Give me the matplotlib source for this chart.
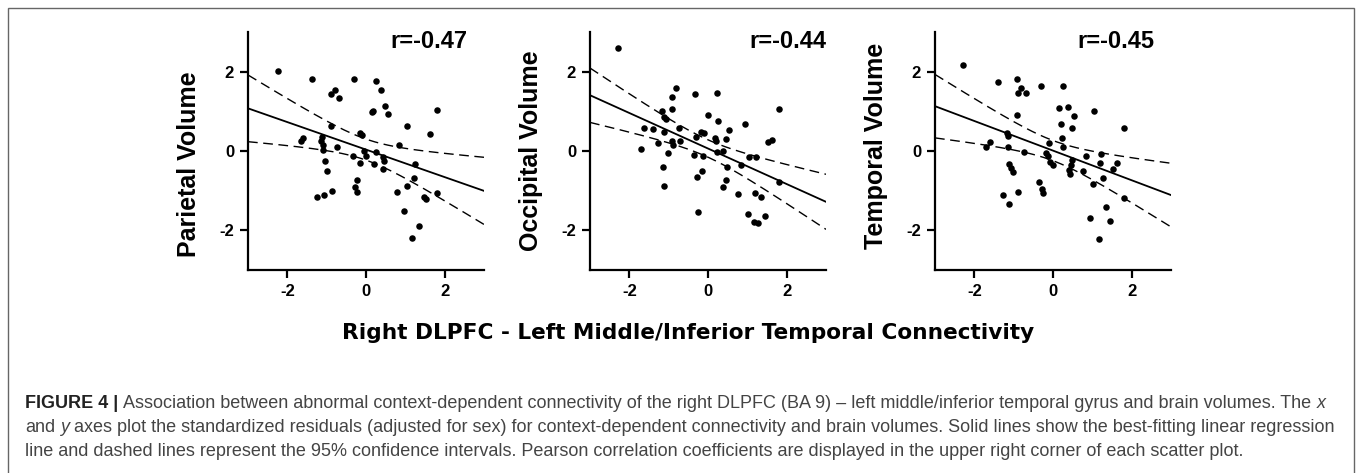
import numpy as np
import matplotlib
matplotlib.use("Agg")
import matplotlib.pyplot as plt
from matplotlib.patches import Rectangle

plt.rcParams["axes.unicode_minus"] = False

# ---- data (standardized residuals) ----
parietal_x = [-2.25, -1.37, -0.30, 0.26, 0.38, -0.78, -0.88, -0.68, 0.49, 0.19,
              0.15, 0.56, 1.81, 1.05, -0.88, 1.63, -0.14, -0.10, -1.60, -1.66,
              -1.11, -1.14, -1.10, -1.10, -0.73, 0.85, -0.06, 0.00, -0.33, 0.26,
              -0.16, 0.20, 0.44, 0.47, 0.42, -1.05, -0.99, 1.25, 1.22, 1.03,
              0.78, 1.81, -0.24, -0.27, -0.23, -0.86, -1.25, -1.08, 1.48, 1.52,
              0.96, 1.35, 1.18]
parietal_y = [2.02, 1.82, 1.82, 1.76, 1.55, 1.54, 1.44, 1.34, 1.13, 1.02,
              0.98, 0.94, 1.04, 0.62, 0.62, 0.43, 0.45, 0.40, 0.33, 0.24,
              0.35, 0.26, 0.16, 0.03, 0.09, 0.14, 0.01, -0.12, -0.12, -0.03,
              -0.30, -0.33, -0.16, -0.24, -0.46, -0.26, -0.50, -0.33, -0.67, -0.88,
              -1.04, -1.07, -0.73, -0.92, -1.03, -1.00, -1.16, -1.12, -1.17, -1.22,
              -1.52, -1.88, -2.19]

occipital_x = [-2.28, -0.81, -0.32, 0.24, -0.91, -0.92, -1.16, -1.12, -1.06, 1.80,
               0.00, 0.26, 0.94, -1.62, -1.40, -0.75, -1.12, 0.54, -0.19, -0.09,
               -0.30, 0.17, 0.47, 0.20, -1.28, -0.91, -0.89, -0.72, 1.53, 1.62,
               -1.70, -1.02, -0.36, -0.13, 0.24, 0.38, 1.04, 1.21, 0.85, 0.49,
               -1.15, -0.16, -0.27, 0.45, 1.81, 0.37, -1.12, 0.77, 1.19, 1.34,
               1.01, 1.45, 1.17, 1.27, -0.26]
occipital_y = [2.59, 1.59, 1.44, 1.46, 1.36, 1.06, 1.00, 0.85, 0.81, 1.07,
               0.90, 0.75, 0.68, 0.59, 0.56, 0.59, 0.49, 0.53, 0.47, 0.45,
               0.36, 0.32, 0.30, 0.24, 0.21, 0.25, 0.15, 0.25, 0.22, 0.27,
               0.04, -0.06, -0.10, -0.12, -0.02, 0.00, -0.14, -0.14, -0.36, -0.40,
               -0.40, -0.51, -0.65, -0.74, -0.78, -0.92, -0.89, -1.08, -1.05, -1.16,
               -1.58, -1.64, -1.78, -1.81, -1.54]

temporal_x = [-2.28, -1.39, -0.91, -0.81, -0.88, -0.68, -0.31, 0.26, 0.15, 0.37,
              0.54, 1.05, 1.80, -0.91, 0.20, 0.48, -1.16, -1.15, 0.24, -1.59,
              -1.70, -1.15, -0.11, 0.26, -0.75, -0.17, -0.13, 0.83, 1.22, -0.08,
              0.01, 0.48, 0.45, 0.41, 0.43, 0.77, 1.19, 1.62, 1.52, -1.13,
              -1.08, -1.01, 1.28, 1.01, -0.36, -0.28, -0.26, -0.89, -1.28, -1.12,
              1.80, 1.34, 0.94, 1.45, 1.17]
temporal_y = [2.16, 1.74, 1.81, 1.59, 1.47, 1.47, 1.65, 1.65, 1.08, 1.10,
              0.87, 1.00, 0.59, 0.90, 0.68, 0.59, 0.45, 0.39, 0.34, 0.22,
              0.11, 0.10, 0.19, 0.11, -0.02, -0.06, -0.12, -0.12, -0.08, -0.27,
              -0.36, -0.23, -0.36, -0.48, -0.57, -0.50, -0.31, -0.31, -0.46, -0.33,
              -0.44, -0.54, -0.69, -0.84, -0.78, -0.95, -1.07, -1.03, -1.10, -1.33,
              -1.19, -1.40, -1.69, -1.77, -2.22]

panel_labels = ["Parietal Volume", "Occipital Volume", "Temporal Volume"]
r_labels = ["r=-0.47", "r=-0.44", "r=-0.45"]
ticks = [-2, 0, 2]
t_crit = 2.01  # two-sided 95%, df ~ 51-53

panels = [(parietal_x, parietal_y), (occipital_x, occipital_y), (temporal_x, temporal_y)]

W, H = 1357, 473
fig = plt.figure(figsize=(W / 100, H / 100), dpi=100)

ax_left = [248, 590, 935]
r_right = [0.928, 1.0, 0.928]
ylab_pos = [0.445, 0.5, 0.52]

for i, (xs, ys) in enumerate(panels):
    ax = fig.add_axes([ax_left[i] / W, 1 - 270 / H, 236 / W, 238 / H])
    xs = np.array(xs)
    ys = np.array(ys)
    ax.scatter(xs, ys, s=22, color="black", zorder=3, linewidths=0)

    # least squares fit + 95% confidence band for the mean
    slope, icpt = np.polyfit(xs, ys, 1)
    n = len(xs)
    resid = ys - (slope * xs + icpt)
    s_err = np.sqrt(np.sum(resid ** 2) / (n - 2))
    sxx = np.sum((xs - xs.mean()) ** 2)
    xx = np.linspace(-3, 3, 200)
    yy = slope * xx + icpt
    half = t_crit * s_err * np.sqrt(1.0 / n + (xx - xs.mean()) ** 2 / sxx)
    ax.plot(xx, yy, color="black", lw=1.3)
    ax.plot(xx, yy + half, color="black", lw=1.0, ls=(0, (7, 4)))
    ax.plot(xx, yy - half, color="black", lw=1.0, ls=(0, (7, 4)))

    ax.set_xlim(-3, 3)
    ax.set_ylim(-3, 3)
    ax.set_xticks(ticks)
    ax.set_yticks(ticks)
    for sp in ["top", "right"]:
        ax.spines[sp].set_visible(False)
    for sp in ["left", "bottom"]:
        ax.spines[sp].set_linewidth(1.6)
    ax.tick_params(width=1.6, length=6, pad=4, direction="out")
    for lab in ax.get_xticklabels() + ax.get_yticklabels():
        lab.set_fontfamily("Liberation Sans")
        lab.set_fontweight("bold")
        lab.set_fontsize(12)
    ax.set_ylabel(panel_labels[i], fontfamily="Liberation Sans", fontweight="bold",
                  fontsize=18)
    ax.yaxis.set_label_coords(-0.2, ylab_pos[i])
    ax.text(r_right[i], 0.958, r_labels[i], transform=ax.transAxes, ha="right", va="center",
            fontfamily="Liberation Sans", fontweight="bold", fontsize=17)

fig.text(688 / W, 1 - 333 / H, "Right DLPFC - Left Middle/Inferior Temporal Connectivity",
         ha="center", va="center", fontfamily="DejaVu Sans", fontweight="bold", fontsize=15.6)

# caption box border
fig.add_artist(Rectangle((8 / W, -0.05), (1354 - 8) / W, 1 - 8 / H + 0.05,
                         transform=fig.transFigure, fill=False, ec="#666666", lw=1.0))

cap_fs = 13.0
reg = dict(fontfamily="Liberation Sans", fontsize=cap_fs, color="#444444")
bold = dict(fontfamily="Liberation Sans", fontsize=cap_fs, color="#222222", fontweight="bold")
ital = dict(fontfamily="Liberation Sans", fontsize=cap_fs, color="#444444", style="italic")

caption_lines = [
    [("FIGURE 4 |", bold),
     ("Association between abnormal context-dependent connectivity of the right DLPFC (BA 9) \u2013 "
      "left middle/inferior temporal gyrus and brain volumes. The", reg),
     ("x", ital)],
    [("and", reg), ("y", ital),
     ("axes plot the standardized residuals (adjusted for sex) for context-dependent connectivity "
      "and brain volumes. Solid lines show the best-fitting linear regression", reg)],
    [("line and dashed lines represent the 95% confidence intervals. Pearson correlation "
      "coefficients are displayed in the upper right corner of each scatter plot.", reg)],
]
caption_y = [403, 427, 451]

renderer = fig.canvas.get_renderer()


def text_width(s, kw):
    t = fig.text(0, 0, s, **kw)
    w = t.get_window_extent(renderer).width
    t.remove()
    return w


space_w = text_width("a a", reg) - text_width("aa", reg)

for line, yl in zip(caption_lines, caption_y):
    x = 25.0
    for s, kw in line:
        t = fig.text(x / W, 1 - yl / H, s, ha="left", va="center", **kw)
        x += t.get_window_extent(renderer).width + space_w

fig.savefig("out.png", dpi=100)
